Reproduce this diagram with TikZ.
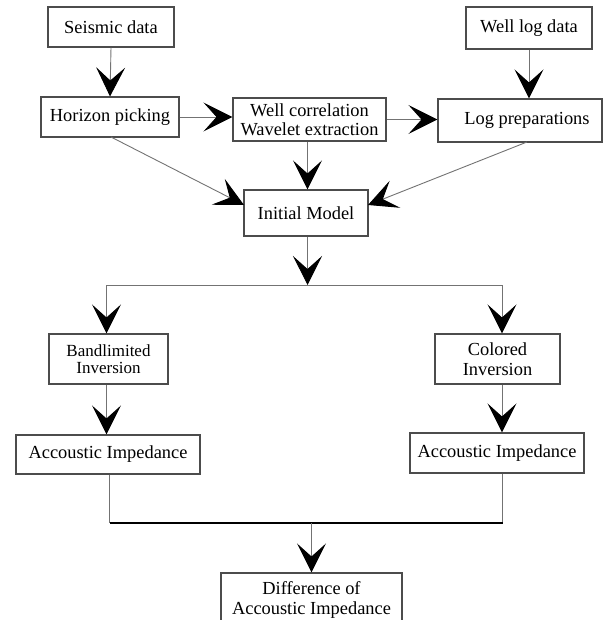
\documentclass[tikz,border=0pt]{standalone}
\usepackage{fontspec}
\setmainfont{Liberation Serif}
\usetikzlibrary{arrows.meta}
\definecolor{boxline}{gray}{0.30}
\definecolor{conline}{gray}{0.45}
\tikzset{
  box/.style={draw=boxline, line width=1.1pt, inner sep=0pt, align=center,
    font=\fontsize{18.4}{20}\selectfont},
  smallbox/.style={box, font=\fontsize{17}{17}\selectfont},
  con/.style={draw=conline, line width=0.9pt,
    -{Stealth[length=29pt, width=29pt, inset=13pt, color=black]}},
  plain/.style={draw=conline, line width=0.9pt},
  thick line/.style={draw=black, line width=2.4pt}
}
\begin{document}
\begin{tikzpicture}[x=1pt,y=-1pt]
\useasboundingbox (0,0) rectangle (603,620);
\clip (0,0) rectangle (603,620);
% boxes
\node[box, minimum width=126pt, minimum height=40pt] (seis) at (111,27) {Seismic data};
\node[box, minimum width=126pt, minimum height=42pt] (well) at (529,28) {Well log data};
\node[box, minimum width=138pt, minimum height=40pt] (hor) at (110,117) {Horizon picking};
\node[box, minimum width=153pt, minimum height=43pt] (wc) at (309.5,119.5) {Well correlation\\[-1pt]Wavelet extraction};
\node[box, minimum width=164pt, minimum height=43pt] (lp) at (520,120.5) {\hspace*{14pt}Log preparations};
\node[box, minimum width=124pt, minimum height=46pt] (im) at (306,213) {Initial Model};
\node[smallbox, minimum width=119pt, minimum height=50pt] (bl) at (108.5,359) {Bandlimited\\Inversion};
\node[box, minimum width=125pt, minimum height=50pt] (ci) at (497.5,359) {Colored\\Inversion};
\node[box, minimum width=184pt, minimum height=39pt] (ai1) at (108,454.5) {Accoustic Impedance};
\node[box, minimum width=174pt, minimum height=40pt] (ai2) at (497,453) {Accoustic Impedance};
\node[box, minimum width=181pt, minimum height=54pt] (diff) at (311.5,600) {Difference of\\Accoustic Impedance};
% coordinates
\coordinate (hs) at (111,137);
\coordinate (ims) at (244,205);
\coordinate (lps) at (527,142);
\coordinate (ime) at (368,205);
\coordinate (br) at (307.5,285);
\coordinate (brl) at (106.5,285);
\coordinate (brr) at (502,285);
\coordinate (jl) at (109.5,523);
\coordinate (jr) at (502.5,523);
\coordinate (jc) at (311.5,523);
% connectors
\draw[con] (seis.south) -- (hor.north);
\draw[con] (well.south) -- (well.south |- lp.north);
\draw[con] (hor.east) -- (hor.east -| wc.west);
\draw[con] (wc.east) -- (wc.east -| lp.west);
\draw[con] (wc.south -| br) -- (im.north -| br);
\draw[con] (hs) -- (ims);
\draw[con] (lps) -- (ime);
\draw[con] (im.south -| br) -- (br);
\draw[plain] (brl) -- (brr);
\draw[con] (brl) -- (brl |- bl.north);
\draw[con] (brr) -- (brr |- ci.north);
\draw[con] (bl.south -| brl) -- (ai1.north -| brl);
\draw[con] (ci.south -| brr) -- (ai2.north -| brr);
\draw[plain] (ai1.south -| jl) -- (jl);
\draw[plain] (ai2.south -| jr) -- (jr);
\draw[thick line] (jl) -- (jr);
\draw[con] (jc) -- (diff.north);
\end{tikzpicture}
\end{document}
